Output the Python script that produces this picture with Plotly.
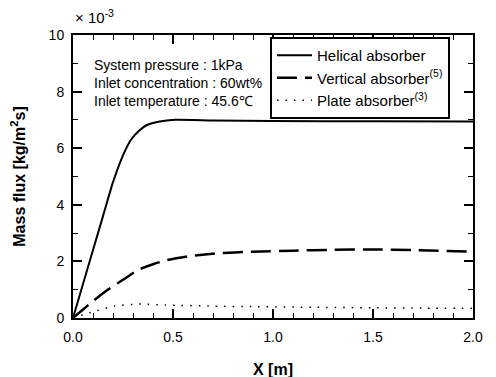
import plotly.graph_objects as go

# Data (Mass flux, x 10^-3 kg/m2s) vs X [m]
x_helical = [0, 0.05, 0.10, 0.15, 0.20, 0.25, 0.29, 0.33, 0.37, 0.41, 0.45, 0.50, 0.70, 1.0, 1.5, 2.0]
y_helical = [0, 1.2, 2.4, 3.6, 4.8, 5.75, 6.3, 6.62, 6.82, 6.91, 6.96, 7.0, 6.98, 6.96, 6.95, 6.94]

x_vertical = [0, 0.08, 0.16, 0.25, 0.325, 0.40, 0.46, 0.59, 0.725, 0.89, 1.1, 1.3, 1.5, 1.7, 2.0]
y_vertical = [0, 0.48, 0.93, 1.35, 1.70, 1.90, 2.03, 2.19, 2.29, 2.34, 2.38, 2.41, 2.42, 2.40, 2.34]

x_plate = [0, 0.10, 0.21, 0.325, 0.46, 0.70, 0.92, 1.2, 1.5, 1.75, 2.0]
y_plate = [0, 0.22, 0.42, 0.49, 0.46, 0.42, 0.40, 0.38, 0.36, 0.35, 0.34]

names = ["Helical absorber", "Vertical absorber<sup>(5)</sup>", "Plate absorber<sup>(3)</sup>"]
x_ticks = [0.0, 0.5, 1.0, 1.5, 2.0]
y_ticks = [0, 2, 4, 6, 8, 10]

FONT = "Arial, 'Liberation Sans', Helvetica, sans-serif"

fig = go.Figure()
fig.add_trace(go.Scatter(x=x_helical, y=y_helical, mode="lines", name=names[0],
                         line=dict(color="black", width=2, shape="spline", smoothing=0.5)))
fig.add_trace(go.Scatter(x=x_vertical, y=y_vertical, mode="lines", name=names[1],
                         line=dict(color="black", width=2.5, dash="20px,8px", shape="spline", smoothing=0.6)))
fig.add_trace(go.Scatter(x=x_plate, y=y_plate, mode="lines", name=names[2],
                         line=dict(color="black", width=1.5, dash="1.5px,7px", shape="spline", smoothing=0.6)))

axis_common = dict(showline=True, linecolor="black", linewidth=2, mirror="ticks",
                   ticks="inside", tickcolor="black", tickwidth=1.5, showgrid=False,
                   zeroline=False, tickfont=dict(family=FONT, size=14, color="black"))

fig.update_xaxes(range=[0, 2], tickvals=x_ticks, tickformat=".1f", ticklen=9, ticklabelstandoff=5,
                 minor=dict(dtick=0.1, ticks="inside", ticklen=5, tickcolor="black", tickwidth=1),
                 title=dict(text="<b>X [m]</b>", font=dict(family=FONT, size=16, color="black"), standoff=20),
                 **axis_common)
fig.update_yaxes(range=[0, 10], tickvals=y_ticks, ticklen=9, ticklabelstandoff=4,
                 minor=dict(dtick=1, ticks="inside", ticklen=5, tickcolor="black", tickwidth=1),
                 title=dict(text="<b>Mass flux [kg/m<sup>2</sup>s]</b>", font=dict(family=FONT, size=16, color="black"), standoff=20),
                 **axis_common)

fig.add_annotation(xref="paper", yref="paper", x=0.047, y=0.93, xanchor="left", yanchor="top",
                   align="left", showarrow=False,
                   text="System pressure : 1kPa<br>Inlet concentration : 60wt%<br>Inlet temperature : 45.6℃",
                   font=dict(family=FONT, size=14, color="black"))
fig.add_annotation(xref="paper", yref="paper", x=0.0, y=1.0, xanchor="left", yanchor="bottom",
                   yshift=7, showarrow=False, text="× 10<sup>-3</sup>",
                   font=dict(family=FONT, size=15, color="black"))

fig.update_layout(
    width=496, height=377,
    margin=dict(l=65, r=31, t=27, b=67, autoexpand=False),
    paper_bgcolor="white", plot_bgcolor="white",
    font=dict(family=FONT, size=14, color="black"),
    showlegend=True,
    legend=dict(x=0.4925, y=0.993, xanchor="left", yanchor="top",
                bgcolor="white", bordercolor="black", borderwidth=2,
                font=dict(family=FONT, size=15, color="black"),
                itemwidth=35, tracegroupgap=0),
)

fig.write_html("out.html")
